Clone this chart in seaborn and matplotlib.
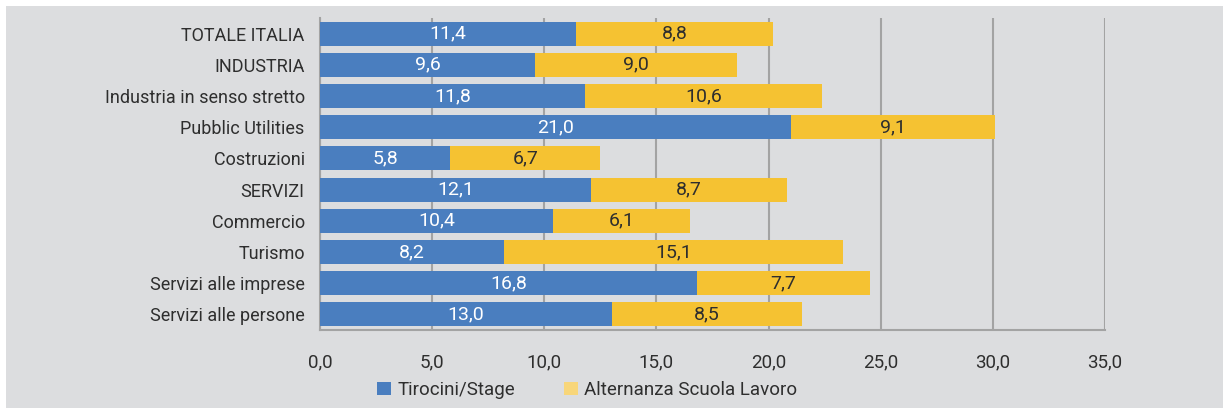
import matplotlib
matplotlib.use("Agg")
import matplotlib.pyplot as plt
from matplotlib.patches import Patch, Rectangle
import numpy as np
import pandas as pd
import seaborn as sns

categories = [
    "TOTALE ITALIA",
    "INDUSTRIA",
    "Industria in senso stretto",
    "Pubblic Utilities",
    "Costruzioni",
    "SERVIZI",
    "Commercio",
    "Turismo",
    "Servizi alle imprese",
    "Servizi alle persone",
]
tirocini = [11.4, 9.6, 11.8, 21.0, 5.8, 12.1, 10.4, 8.2, 16.8, 13.0]
alternanza = [8.8, 9.0, 10.6, 9.1, 6.7, 8.7, 6.1, 15.1, 7.7, 8.5]
series_names = ["Tirocini/Stage", "Alternanza Scuola Lavoro"]
x_ticks = [0, 5, 10, 15, 20, 25, 30, 35]

BG = "#dcdddf"
BLUE = "#4a7ebf"
YELLOW = "#f5c232"
YELLOW_LEGEND = "#f8d67a"
GRID = "#a3a3a3"
TEXT = "#2e2e2e"

sns.set_theme(style="white")
plt.rcParams["font.family"] = ["Roboto", "DejaVu Sans"]

df = pd.DataFrame({"cat": categories, "tir": tirocini, "alt": alternanza})
df["tot"] = df["tir"] + df["alt"]

fig = plt.figure(figsize=(12.23, 4.08), dpi=100, facecolor="white")
fig.patches.append(Rectangle((6 / 1223, 0), 1, 402 / 408, transform=fig.transFigure,
                             facecolor=BG, edgecolor="none", zorder=-10))
ax = fig.add_axes([320 / 1223, 1 - 330 / 408, 785 / 1223, 312 / 408])
ax.set_facecolor(BG)

# stacked bars: full total in yellow, first segment in blue on top
sns.barplot(data=df, y="cat", x="tot", color=YELLOW, saturation=1, width=0.77,
            orient="h", ax=ax, zorder=3, linewidth=0, edgecolor="none")
sns.barplot(data=df, y="cat", x="tir", color=BLUE, saturation=1, width=0.77,
            orient="h", ax=ax, zorder=4, linewidth=0, edgecolor="none")

def fmt(v):
    return f"{v:.1f}".replace(".", ",")

for i, (t, a) in enumerate(zip(tirocini, alternanza)):
    ax.text(t / 2, i, fmt(t), ha="center", va="center", color="white",
            fontsize=14, zorder=5)
    ax.text(t + a / 2, i, fmt(a), ha="center", va="center", color=TEXT,
            fontsize=14, zorder=5)

ax.set_xlim(0, 35)
ax.set_ylim(9.5, -0.5)
ax.set_xticks(x_ticks)
ax.set_xticklabels([fmt(v) for v in x_ticks])
ax.set_xlabel("")
ax.set_ylabel("")
ax.tick_params(axis="x", length=0, pad=17, labelsize=13.5, labelcolor=TEXT)
ax.tick_params(axis="y", length=0, pad=11, labelsize=13, labelcolor=TEXT)

ax.xaxis.grid(True, color=GRID, linewidth=1.5, zorder=1)
ax.yaxis.grid(False)
ax.set_axisbelow(True)
for side in ["top", "right"]:
    ax.spines[side].set_visible(False)
for side in ["left", "bottom"]:
    ax.spines[side].set_visible(True)
    ax.spines[side].set_color(GRID)
    ax.spines[side].set_linewidth(1.5)

handles = [Patch(facecolor=BLUE, edgecolor="none"),
           Patch(facecolor=YELLOW_LEGEND, edgecolor="none")]
fig.legend(handles, series_names, loc="center", ncol=2,
           bbox_to_anchor=(587 / 1223, 1 - 390 / 408), frameon=False,
           fontsize=13.5, handlelength=0.75, handleheight=0.75,
           handletextpad=0.35, columnspacing=2.6, labelcolor=TEXT)

fig.savefig("out.png", dpi=100, facecolor=fig.get_facecolor())
